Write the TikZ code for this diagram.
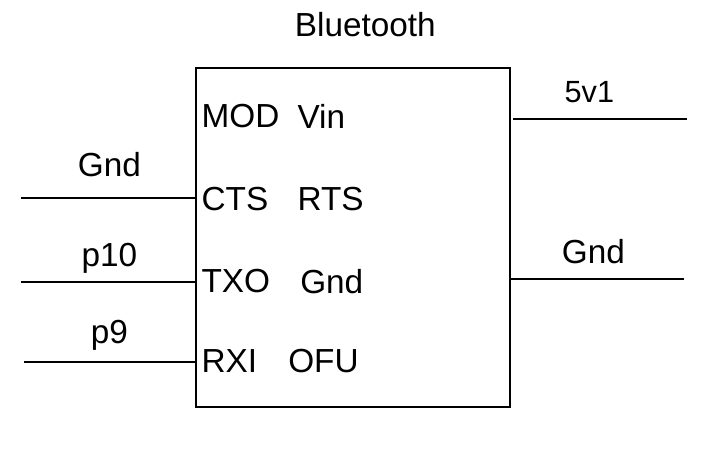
\documentclass[tikz,border=0pt]{standalone}
\usepackage{fontspec}
\setmainfont{Liberation Sans}
\begin{document}
\begin{tikzpicture}[x=1pt,y=-1pt,
    pinlabel/.style={inner sep=0pt,font=\fontsize{25}{29}\selectfont},
    wirelabel/.style={inner sep=0pt,font=\fontsize{25}{29}\selectfont}]
    \useasboundingbox (0,0) rectangle (535.5,349.5);
    \node[draw, line width=1.4pt, minimum width=235.5pt, minimum height=254.5pt, inner sep=0pt] (chip) at (264.8,178.3) {};
    \node[wirelabel] (capt) at (274,18.5) {Bluetooth};
    % left column of the chip
    \node[pinlabel, anchor=west] (mod) at (151,87) {MOD};
    \node[pinlabel, anchor=west] (cts) at (151,149) {CTS};
    \node[pinlabel, anchor=west] (txo) at (151,211) {TXO};
    \node[pinlabel, anchor=west] (rxi) at (151,271) {RXI};
    % right column of the chip
    \node[pinlabel, anchor=west] (vin) at (223,87) {Vin};
    \node[pinlabel, anchor=west] (rts) at (223,149) {RTS};
    \node[pinlabel, anchor=west] (gndr) at (225,211) {Gnd};
    \node[pinlabel, anchor=west] (ofu) at (216,271) {OFU};
    % outer labels
    \node[wirelabel] (gnda) at (82,123.5) {Gnd};
    \node[wirelabel] (pten) at (82,193.5) {p10};
    \node[wirelabel] (pnine) at (82,251.5) {p9};
    \node[wirelabel, font=\fontsize{23}{27}\selectfont] (fivev) at (442,69) {5v1};
    \node[wirelabel] (gndb) at (445,189) {Gnd};
    % free ends of the wires
    \coordinate (endcts) at (16,148.2);
    \coordinate (endtxo) at (16,211.5);
    \coordinate (endrxi) at (18,271.5);
    \coordinate (endvin) at (515,89);
    \coordinate (endgnd) at (513,209.5);
    \coordinate (startvin) at (385,89);
    \coordinate (startgnd) at (382,209.5);
    \draw [line width=1.4pt]
        (endcts) edge (endcts -| chip.west)
        (endtxo) edge (endtxo -| chip.west)
        (endrxi) edge (endrxi -| chip.west)
        (startvin) edge (endvin)
        (startgnd) edge (endgnd);
\end{tikzpicture}
\end{document}
